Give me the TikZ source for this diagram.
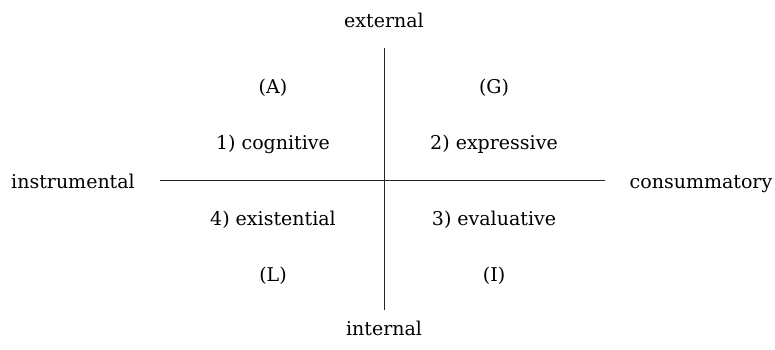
\documentclass[tikz,border=0pt]{standalone}
\usepackage{fontspec}
\setmainfont{DejaVu Serif}
\begin{document}
\begin{tikzpicture}[x=1pt,y=1pt,
  lbl/.style={inner sep=0pt,anchor=base,font=\fontsize{19}{23}\selectfont},
  axis/.style={draw=black!85,line width=0.8pt}]
\useasboundingbox (0,0) rectangle (775,349);
\coordinate (l) at (160,169);
\coordinate (r) at (605,169);
\coordinate (t) at (384,301);
\coordinate (b) at (384,39);
\draw[axis] (l) -- (r);
\draw[axis] (t) -- (b);
\node[lbl] (ext) at (384,322) {external};
\node[lbl] (int) at (384,14) {internal};
\node[lbl] (ins) at (73,161) {instrumental};
\node[lbl] (con) at (701,161) {consummatory};
\node[lbl] (A) at (273,256) {(A)};
\node[lbl] (G) at (494,256) {(G)};
\node[lbl] (q1) at (273,200) {1) cognitive};
\node[lbl] (q2) at (494,200) {2) expressive};
\node[lbl] (q4) at (273,124) {4) existential};
\node[lbl] (q3) at (494,124) {3) evaluative};
\node[lbl] (L) at (273,68) {(L)};
\node[lbl] (I) at (494,68) {(I)};
\end{tikzpicture}
\end{document}
